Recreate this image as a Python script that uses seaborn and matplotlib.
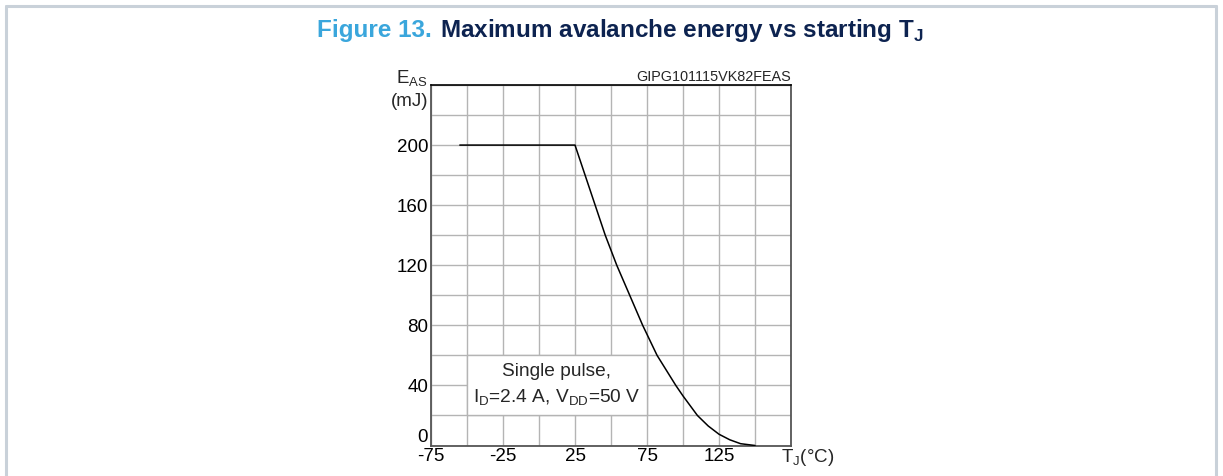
import matplotlib
matplotlib.use("Agg")
import matplotlib.pyplot as plt
import seaborn as sns
import pandas as pd
from matplotlib.patches import Rectangle

# ---- data ----
tj_c = [-55, 25, 32, 39, 46, 50, 54, 63, 72, 75, 82, 88.5, 95, 100, 110, 117.5, 125, 132.5, 140, 150]
eas_mj = [200, 200, 180, 160, 140, 130, 120, 100, 80, 74, 60, 50, 40, 33, 20, 13, 7.5, 3.8, 1.2, 0]

x_ticks = [-75, -50, -25, 0, 25, 50, 75, 100, 125, 150, 175]
x_labels = ["-75", "", "-25", "", "25", "", "75", "", "125", "", ""]
y_ticks = [0, 20, 40, 60, 80, 100, 120, 140, 160, 180, 200, 220, 240]
y_labels = ["0", "", "40", "", "80", "", "120", "", "160", "", "200", "", ""]

title_num = "Figure 13."
title_txt = r"Maximum avalanche energy vs starting T$_\mathregular{J}$"
code_txt = "GIPG101115VK82FEAS"
note_txt = "Single pulse,\n" + r"I$_\mathregular{D}$=2.4 A, V$_\mathregular{DD}$=50 V"

sns.set_theme(style="white")
plt.rcParams["font.family"] = ["Liberation Sans", "DejaVu Sans"]
plt.rcParams["mathtext.fontset"] = "custom"
plt.rcParams["mathtext.rm"] = "Liberation Sans"
plt.rcParams["mathtext.bf"] = "Liberation Sans:bold"

W, H = 1223, 476
fig = plt.figure(figsize=(W / 100, H / 100), dpi=100)

# figure border (open at bottom)
border = "#c9d1d9"
fig.add_artist(plt.Line2D([5.5 / W, 5.5 / W], [0, 1 - 5.5 / H], color=border, lw=2.2))
fig.add_artist(plt.Line2D([5.5 / W, 1216 / W], [1 - 5.5 / H, 1 - 5.5 / H], color=border, lw=2.2))
fig.add_artist(plt.Line2D([1216 / W, 1216 / W], [0, 1 - 5.5 / H], color=border, lw=2.2))

ax = fig.add_axes([431 / W, 1 - 445.5 / H, 360 / W, 360.5 / H])

df = pd.DataFrame({"TJ": tj_c, "EAS": eas_mj})
sns.lineplot(data=df, x="TJ", y="EAS", ax=ax, color="black", lw=1.1, sort=False, zorder=5)

ax.set_xlim(-75, 175)
ax.set_ylim(0, 240)
ax.set_xticks(x_ticks)
ax.set_xticklabels(x_labels)
ax.set_yticks(y_ticks)
ax.set_yticklabels(y_labels)
ax.tick_params(length=0, labelsize=13.5, colors="black", pad=2)
ax.get_yticklabels()[0].set_va("bottom")
ax.set_xlabel("")
ax.set_ylabel("")
ax.grid(True, color="#b4b4b4", lw=1.0)
ax.set_axisbelow(True)
for side in ["left", "bottom", "right"]:
    ax.spines[side].set_color("#555555")
    ax.spines[side].set_linewidth(1.3)
ax.spines["top"].set_color("black")
ax.spines["top"].set_linewidth(1.2)

# annotation box
ax.add_patch(Rectangle((-50, 20), 125, 40, facecolor="white", edgecolor="#b4b4b4", lw=1.0, zorder=3))
ax.text(12.5, 40, note_txt, ha="center", va="center", fontsize=13.8, linespacing=1.5, zorder=4)

# code label
ax.text(1.0, 1.003, code_txt, transform=ax.transAxes, ha="right", va="bottom", fontsize=10.4)

# axis labels
fig.text(428 / W, 1 - 79 / H, r"E$_\mathregular{AS}$", ha="right", va="center", fontsize=13.5)
fig.text(428 / W, 1 - 102 / H, "(mJ)", ha="right", va="center", fontsize=13.5)
fig.text(781 / W, 1 - 458 / H, r"T$_\mathregular{J}$(°C)", ha="left", va="center", fontsize=13.5)

# title
fig.text(432 / W, 1 - 31 / H, title_num, ha="right", va="center", fontsize=17.5,
         fontweight="bold", color="#3aa6dc")
fig.text(440 / W, 1 - 31 / H, title_txt, ha="left", va="center", fontsize=17.5,
         fontweight="bold", color="#0d2350")

fig.savefig("out.png", dpi=100)
